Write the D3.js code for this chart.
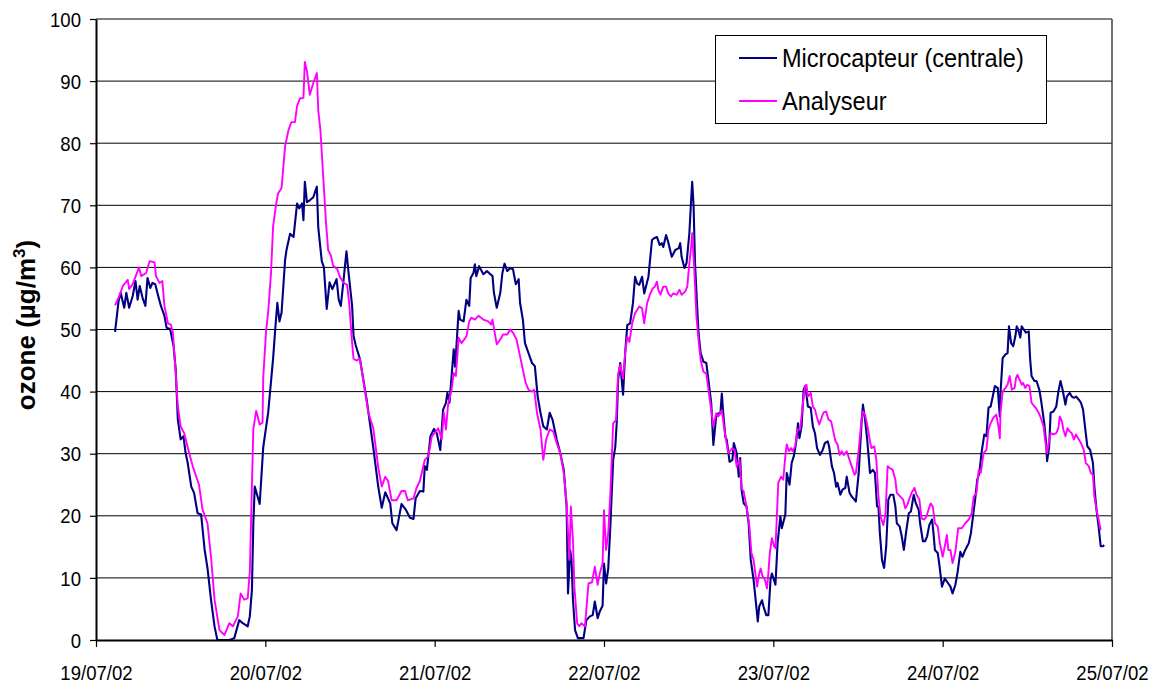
<!DOCTYPE html>
<html><head><meta charset="utf-8">
<script src="https://cdn.jsdelivr.net/npm/d3@7"></script>
<style>html,body{margin:0;padding:0;background:#fff;} svg{display:block;font-family:Arial,"Liberation Sans",sans-serif;}</style>
</head><body><svg id="c" width="1160" height="684"></svg>
<script>
// ---- data ----
const startDate = new Date(2002, 6, 19, 0, 0);
const dayLabels = ["19/07/02","20/07/02","21/07/02","22/07/02","23/07/02","24/07/02","25/07/02"];
const yTicks = [0,10,20,30,40,50,60,70,80,90,100];
const seriesNames = ["Microcapteur (centrale)", "Analyseur"];
const seriesColors = ["#000080", "#FF00FF"];
const yLabel = "ozone (µg/m";
// [hours since 19/07/02 00:00, ozone µg/m3]
const microcapteur = [
[2.7,49.6],[3.2,54.6],[3.5,55.9],[4.0,53.5],[4.3,55.9],[4.7,53.5],[5.2,55.4],[5.6,57.8],[5.9,54.8],[6.2,57],[6.6,55.1],[7.0,53.8],[7.3,58.3],[7.7,56.7],[8.0,57.5],[8.4,57.3],[8.7,55.9],[9.2,53.8],[9.7,52.2],[10.0,50.3],[10.5,50.1],[11.0,47.3],[11.3,43.5],[11.6,35.5],[12.0,32.3],[12.4,32.8],[12.7,30.1],[13.0,28.5],[13.5,24.7],[13.9,23.7],[14.4,20.4],[14.9,20.2],[15.4,14.5],[15.8,11.6],[16.3,6.5],[16.8,2.2],[17.2,0],[18.9,0],[19.6,0.3],[20.3,3.2],[20.8,2.7],[21.5,2.2],[21.8,3.8],[22.1,8.1],[22.3,18.8],[22.5,24.7],
[23.2,21.9],[23.7,31],[24.4,36.6],[25.1,45.3],[25.4,50],[25.7,54.3],[26.0,51.3],[26.3,52.7],[26.8,61.2],[27.0,62.8],[27.5,65.4],[28.0,64.9],[28.5,70.3],[28.8,69.5],[29.2,70.3],[29.4,67.6],[29.6,73.8],[29.9,70.5],[30.3,70.8],[30.8,71.3],[31.3,73],[31.5,66.5],[32.0,61],[32.3,60],[32.7,53.3],[33.1,57.6],[33.5,56.5],[34.1,58.1],[34.4,54.8],[34.7,53.8],[35.1,58.1],[35.5,62.6],[35.8,59.1],[36.3,53.8],[36.5,49],[36.8,47.5],[37.4,45.3],[38.4,38.4],[39.3,31],[40.0,24.7],[40.5,21.3],[41.0,23.8],[41.7,22],[42.0,18.8],[42.6,17.7],[43.3,21.9],[43.9,21],[44.5,19.7],[45.0,19.5],[45.3,22.8],[45.9,24],
[46.4,23.9],[46.6,28],[46.9,27.4],[47.1,29.6],[47.4,32.8],[47.9,34],[48.3,33.3],[48.8,30.6],[49.2,37.1],[49.6,38.2],[49.8,39.8],[50.1,38.2],[50.7,46.8],[50.9,44],[51.4,53],[51.6,51.6],[52.1,51.3],[52.5,54.8],[52.9,53.8],[53.1,58.3],[53.5,59.1],[53.7,60.5],[53.9,58.6],[54.3,60.2],[54.9,58.9],[55.4,59.4],[55.9,58.9],[56.2,58.6],[56.4,55.9],[56.8,53.5],[57.3,55.9],[57.6,59.1],[57.9,60.6],[58.3,59.4],[58.7,59.9],[59.1,59.7],[59.5,57.3],[59.9,58.1],[60.1,54.3],[60.5,51.6],[60.8,47.8],[61.3,46.2],[61.8,44.6],[62.2,44.1],[62.6,39.2],[63.0,36.6],[63.4,34.4],[63.9,33.9],[64.3,36.6],[64.7,35.5],[65.3,32.3],[65.8,30.1],[66.3,27.4],[66.7,21.5],[66.9,7.5],[67.2,14.5],[67.4,12.9],[67.6,6.5],[67.9,1.6],[68.3,0.3],[69.1,0.3],[69.5,3.2],[70.0,3.8],[70.4,4],
[70.7,6.2],[71.1,3.5],[71.4,4.6],[71.8,5.5],[72.0,12.3],[72.3,9.1],[72.6,11.5],[72.9,18.3],[73.3,29],[73.6,31.1],[73.8,34.9],[74.0,41.9],[74.3,44.6],[74.7,39.5],[75.0,46.2],[75.3,50.7],[75.7,51],[76.1,54.2],[76.4,58.5],[76.7,57.4],[77.0,57.2],[77.4,58.5],[77.7,55.8],[78.3,58.5],[78.8,64.4],[79.1,64.7],[79.5,64.9],[79.9,63.6],[80.2,63.9],[80.4,63.3],[80.8,65.2],[81.1,64.1],[81.6,61.7],[82.1,62.8],[82.6,63.1],[82.8,63.9],[83.0,61.7],[83.4,59.9],[83.7,60.7],[84.1,65.5],[84.3,69.8],[84.5,73.8],[84.7,69.8],[84.9,60.7],[85.2,53.7],[85.4,49.4],[85.7,46.2],[86.1,44.8],[86.5,44.6],[86.8,41.9],[87.2,38.1],[87.5,31.4],[87.9,36],[88.2,36.5],[88.5,36.5],[88.7,39.7],[88.9,36.5],[89.2,32.7],[89.4,32.2],[89.8,28.7],[90.2,29],[90.4,31.7],[90.8,30.1],[91.1,26.3],[91.3,29.3],[91.5,24.2],[91.8,22],[92.2,21.5],[92.5,18.8],[92.8,12.9],[93.2,9.7],[93.4,7.5],[93.8,3],[94.0,5.4],[94.4,6.4],[94.6,5.4],[95.0,4],[95.3,4],[95.6,9.7],[95.8,10.7],[96.3,8.9],[96.6,15.6],[97.0,19.9],
[97.2,18],[97.7,20.2],[97.9,26.9],[98.3,25],[98.6,28.5],[98.9,29.6],[99.2,31.5],[99.5,34.9],[99.7,32.5],[100.0,34.4],[100.3,40.3],[100.5,40.9],[100.7,39.5],[100.9,37.6],[101.3,37.4],[101.6,34.4],[101.9,33.3],[102.2,30.9],[102.6,29.8],[103.0,30.6],[103.3,31.7],[103.7,32],[103.9,31.2],[104.3,28],[104.6,26.9],[104.9,24.7],[105.1,25.3],[105.5,23.4],[105.8,24.2],[106.2,24.5],[106.4,26.3],[106.8,23.7],[107.1,23.1],[107.5,22.6],[107.7,22.3],[108.1,26.9],[108.5,34.9],[108.7,37.9],[109.0,35.5],[109.3,32.3],[109.7,26.9],[110.1,27.4],[110.4,26.9],[110.7,21.5],[110.9,21.5],[111.1,17.2],[111.4,12.9],[111.7,11.6],[112.0,15.1],[112.3,22.6],[112.6,23.4],[113.0,23.4],[113.3,21.5],[113.5,18.8],[113.9,18.3],[114.2,16.7],[114.5,14.5],[114.8,17.2],[115.2,20.4],[115.5,20.7],[115.9,23.4],[116.2,22],[116.6,21],[116.8,18.8],[117.2,15.9],[117.5,15.9],[117.8,16.7],[118.1,18.5],[118.5,19.4],
[118.7,17.2],[118.9,14.5],[119.3,14],[119.5,12.4],[119.9,8.6],[120.3,9.9],[120.8,9.1],[121.1,8.6],[121.4,7.5],[121.8,8.9],[122.1,10.8],[122.5,14.2],[122.8,13.4],[123.2,14.5],[123.7,15.6],[124.0,17.2],[124.3,19.9],[124.6,22.6],[124.9,25.8],[125.2,26.9],[125.5,30.1],[125.9,33.1],[126.2,32.8],[126.5,37.4],[126.8,37.6],[127.1,39.2],[127.4,40.9],[127.8,40.6],[128.1,36],[128.2,39.8],[128.5,45.4],[128.9,46],[129.2,46.2],[129.4,50.5],[129.7,47.8],[130.0,47.3],[130.3,48.9],[130.5,50.5],[130.7,50],[131.0,48.7],[131.2,50.5],[131.5,50],[131.8,49.5],[132.2,49.7],[132.4,45.2],[132.6,42.5],[133.0,41.7],[133.3,41.7],[133.7,40.3],[134.0,38.2],[134.4,34.9],[134.7,31.2],[134.8,28.8],[135.1,31.2],[135.3,36.6],[135.7,36.8],[136.1,37.6],[136.4,40],[136.7,41.7],[137.0,40.3],[137.4,37.9],[137.6,39.2],[138.0,39.8],[138.3,39.2],[138.6,39],[138.9,39.2],[139.3,38.7],[139.6,38.2],[139.9,37.1],[140.2,34.1],[140.5,31.2],[140.9,30.6],[141.3,28.5],[141.5,24.7],[141.8,21],[142.1,18.3],[142.4,15.1],[142.7,15.1],[142.9,15.3]
];
const analyseur = [
[2.7,53.9],[3.3,55.4],[3.8,57],[4.5,58],[4.7,56.5],[5.2,57.3],[6.1,60],[6.4,58.6],[7.1,59.1],[7.6,61],[8.3,60.8],[8.5,58.6],[9.0,57.5],[9.4,57.8],[9.7,53.8],[10.2,51],[10.6,50.8],[10.9,49.5],[11.3,43],[11.6,37.6],[12.0,34.4],[12.5,33.3],[13.2,30.1],[13.7,28],[14.6,25],[15.1,21],[15.8,18.8],[16.3,13.4],[16.8,6.5],[17.5,1.6],[18.2,0.8],[18.9,2.7],[19.4,2.2],[20.1,3.8],[20.5,7.5],[21.0,6.5],[21.5,6.7],[21.8,11],
[22.3,34],[22.7,36.9],[23.2,34.7],[23.6,35],[23.7,42.2],[24.1,49.7],[24.4,52.8],[24.8,59],[25.1,66.6],[25.5,70],[25.8,71.9],[26.3,72.8],[26.8,79.5],[27.3,82.2],[27.7,83.4],[28.2,83.4],[28.5,86],[28.9,87.2],[29.4,87.3],[29.6,93.1],[29.9,91.6],[30.3,87.8],[30.8,89.7],[31.3,91.3],[31.5,85.3],[31.8,82.2],[32.2,74.7],[32.6,67.2],[32.9,62.8],[33.3,61.9],[33.6,60.3],[34.2,59.7],[34.6,58.4],[35.1,57.5],[35.6,57.2],[35.9,54],[36.3,47.8],[36.5,45.3],[36.9,45],[37.4,45.3],[38.1,40.3],[38.6,36.6],[39.3,34.1],[40.0,27.8],[40.5,24.7],[41.0,26.3],[41.4,25.6],[41.9,22.5],[42.6,22.5],[43.3,24],[43.8,24],[44.2,22.5],[45.0,22.8],[45.4,24.4],[45.9,25.6],
[46.6,29],[47.1,29.6],[47.6,32.8],[48.2,33.6],[48.5,34.1],[49.0,32.3],[49.3,36.6],[49.6,33.9],[49.9,37.9],[50.4,40.3],[50.7,43],[51.0,42.5],[51.4,48.7],[51.8,47.8],[52.2,48.4],[52.5,48.9],[52.9,51.3],[53.2,51.9],[53.7,51.6],[54.2,52.2],[54.9,51.6],[55.6,51.3],[56.0,50.8],[56.2,51.6],[56.6,48.9],[56.8,47.6],[57.3,48.4],[57.7,49.2],[58.3,49.2],[58.7,50],[59.1,49.5],[59.6,48.4],[60.1,45.7],[60.6,43],[60.9,41.4],[61.3,40.3],[61.8,40],[62.1,40.3],[62.5,36.6],[63.0,33.9],[63.4,29],[63.8,32.3],[64.3,33.9],[64.8,33.6],[65.3,31.7],[65.8,30.1],[66.3,26.9],[66.7,22],[67.1,12.9],[67.3,21.5],[67.6,16.1],[67.8,8.6],[68.2,2.7],[68.5,2.2],[68.8,2.7],[69.3,2.2],[69.8,9.1],
[70.3,9.3],[70.7,11.8],[71.1,8.9],[71.4,10.7],[71.8,12.3],[72.0,20.9],[72.3,14.5],[72.6,17.2],[72.9,23.6],[73.3,34.9],[73.7,35.4],[74.0,42.9],[74.3,44.3],[74.7,42.1],[75.0,46.2],[75.3,48.8],[75.6,48],[76.0,51],[76.4,52.6],[77.0,53.7],[77.4,53.4],[77.7,51],[78.1,54.2],[78.5,55.6],[78.9,56.6],[79.2,56.9],[79.5,57.7],[79.7,56.4],[80.0,55.6],[80.4,56.9],[80.8,56.9],[81.1,55.8],[81.5,55.3],[81.8,55.8],[82.3,55.6],[82.7,56.4],[83.0,55.6],[83.5,56.1],[83.8,56.9],[84.1,60.7],[84.4,63.9],[84.5,65.5],[84.8,59.6],[85.1,52.1],[85.4,48.3],[85.7,45.1],[86.1,43.2],[86.5,42.9],[86.8,40.3],[87.2,37],[87.5,34.4],[87.9,36.5],[88.2,36],[88.7,37],[89.0,34.4],[89.3,32.2],[89.6,30.1],[90.2,30.9],[90.5,30.6],[90.8,27.9],[91.2,29],[91.5,24.4],[91.8,23.9],[92.2,21.5],[92.6,18.3],[92.9,14],[93.2,12.9],[93.7,8.6],[94.0,10.7],[94.2,11.5],[94.5,10.2],[94.8,9.7],[95.1,8.3],[95.3,10.8],[95.5,14],[95.8,16.4],[96.1,15.1],[96.3,14.8],[96.5,19.9],[96.7,25.3],
[97.1,26.3],[97.4,25.8],[97.7,29.6],[97.9,31.5],[98.2,30.4],[98.5,30.9],[98.7,30.4],[99.1,31.2],[99.4,33.9],[99.8,33.9],[100.2,38.2],[100.5,40.9],[100.7,41.1],[100.9,39.2],[101.3,39.8],[101.6,37.6],[101.9,37.1],[102.2,35.8],[102.5,34.7],[102.9,36],[103.1,36.6],[103.5,36.8],[103.8,35.5],[104.2,35.2],[104.5,33.6],[104.8,32],[105.1,31.5],[105.4,29.8],[105.7,30.4],[106.0,29.8],[106.4,30.4],[106.8,29],[107.1,28],[107.5,26.6],[107.7,26.9],[108.1,30.6],[108.5,35.5],[108.7,36.8],[109.0,36.3],[109.3,34.7],[109.7,32],[109.9,30.9],[110.3,31.2],[110.6,29],[110.9,23.1],[111.2,19.9],[111.6,18.5],[111.9,20.4],[112.2,28],[112.5,27.7],[112.9,27.4],[113.3,25.8],[113.5,23.7],[114.0,23.1],[114.4,22.6],[114.7,21.2],[115.0,21.8],[115.3,22.8],[115.6,23.7],[116.0,24.5],[116.3,23.4],[116.7,22.6],[117.0,19.6],[117.4,19.4],[117.7,19.9],[118.0,21],[118.3,22],
[118.6,21.5],[118.9,18.8],[119.3,18.3],[119.6,15.6],[120.0,13.4],[120.3,15.1],[120.6,16.9],[120.8,14.5],[121.1,14.5],[121.4,12.4],[121.8,14.2],[122.2,18],[122.7,18],[123.2,18.8],[123.7,19.4],[124.1,20.4],[124.4,23.1],[124.8,23.7],[125.1,27.4],[125.4,26.9],[125.8,30.1],[126.2,30.6],[126.5,33.9],[126.8,34.9],[127.2,35.8],[127.6,36.3],[127.9,34.4],[128.1,32.5],[128.2,36.6],[128.5,40],[128.9,40.6],[129.2,41.1],[129.5,42.5],[129.8,40.3],[130.2,40.6],[130.4,42.2],[130.6,42.7],[131.0,41.7],[131.2,41.1],[131.4,41.4],[131.7,40.6],[132.0,41.1],[132.3,40.9],[132.6,38.2],[133.0,37.6],[133.2,37.4],[133.6,36.6],[133.9,35.8],[134.3,34.4],[134.5,32.3],[134.8,30.1],[135.0,31.5],[135.3,33.3],[135.7,33.1],[136.1,33.3],[136.4,34.1],[136.6,36],[136.9,35.2],[137.1,33.9],[137.4,32.8],[137.7,34.1],[138.0,33.6],[138.3,33.3],[138.6,32.3],[138.9,33.1],[139.3,32.3],[139.6,31.7],[140.0,30.6],[140.3,28.5],[140.7,28],[141.0,26.9],[141.3,26.6],[141.5,23.1],[141.8,21],[142.1,19.4],[142.4,17.7]
];

// ---- chart ----
const svg = d3.select("#c");
const plot = {left:96, right:1112, top:19, bottom:640};
const sx = 0.885; // horizontal text compression seen in the reference
const x = d3.scaleTime()
  .domain([startDate, d3.timeDay.offset(startDate, dayLabels.length - 1)])
  .range([plot.left, plot.right]);
const y = d3.scaleLinear().domain([0, 100]).range([plot.bottom, plot.top]);
const toDate = h => new Date(startDate.getTime() + h * 3600000);
const dayDates = dayLabels.map((d, i) => d3.timeDay.offset(startDate, i));

// gridlines
svg.append("g").selectAll("line").data(yTicks.filter(v => v > 0)).join("line")
  .attr("x1", plot.left).attr("x2", plot.right)
  .attr("y1", d => y(d)).attr("y2", d => y(d))
  .attr("stroke", "#000").attr("stroke-width", 1);
// plot border top/right
svg.append("line").attr("x1", plot.left).attr("x2", plot.right).attr("y1", plot.top).attr("y2", plot.top)
  .attr("stroke", "#808080").attr("stroke-width", 1.5);
svg.append("line").attr("x1", plot.right).attr("x2", plot.right).attr("y1", plot.top).attr("y2", plot.bottom)
  .attr("stroke", "#404040").attr("stroke-width", 1.5);

// lines
const line = d3.line().x(d => x(toDate(d[0]))).y(d => y(d[1]));
[microcapteur, analyseur].forEach((s, i) => {
  svg.append("path").datum(s).attr("d", line)
    .attr("fill", "none").attr("stroke", seriesColors[i])
    .attr("stroke-width", i === 0 ? 2.1 : 1.9)
    .attr("stroke-linejoin", "round");
});

// y axis
const gy = svg.append("g").attr("transform", `translate(${plot.left},0)`)
  .call(d3.axisLeft(y).tickValues(yTicks).tickSize(6).tickSizeOuter(0));
gy.select(".domain").attr("stroke", "#000").attr("stroke-width", 2);
gy.selectAll(".tick line").attr("stroke", "#000").attr("stroke-width", 1.2);
gy.selectAll(".tick text").attr("font-size", 21).attr("fill", "#000")
  .attr("font-family", "Arial, 'Liberation Sans', sans-serif")
  .attr("x", -15 / sx).attr("dy", "0.34em")
  .attr("transform", `scale(${sx},1)`);

// x axis
const gx = svg.append("g").attr("transform", `translate(0,${plot.bottom})`)
  .call(d3.axisBottom(x).tickValues(dayDates).tickFormat((d, i) => dayLabels[i]).tickSize(7).tickSizeOuter(0));
gx.select(".domain").attr("stroke", "#000").attr("stroke-width", 2);
gx.selectAll(".tick line").attr("stroke", "#000").attr("stroke-width", 1.2);
gx.selectAll(".tick text").attr("font-size", 21).attr("fill", "#000")
  .attr("font-family", "Arial, 'Liberation Sans', sans-serif")
  .attr("y", 40).attr("dy", 0)
  .attr("transform", `scale(${sx},1)`);

// y label
const yl = svg.append("text").attr("transform", "translate(35,325) rotate(-90)")
  .attr("text-anchor", "middle").attr("font-size", 26).attr("font-weight", "bold").attr("fill", "#000");
yl.append("tspan").text(yLabel);
yl.append("tspan").attr("font-size", 17).attr("dy", -10).text("3");
yl.append("tspan").attr("dy", 10).text(")");

// legend
const lg = svg.append("g");
lg.append("rect").attr("x", 715.5).attr("y", 35.5).attr("width", 331).attr("height", 88)
  .attr("fill", "#fff").attr("stroke", "#000").attr("stroke-width", 1);
seriesNames.forEach((n, i) => {
  const ly = 58 + i * 43;
  lg.append("line").attr("x1", 739).attr("x2", 777).attr("y1", ly).attr("y2", ly)
    .attr("stroke", seriesColors[i]).attr("stroke-width", 2);
  lg.append("text").attr("transform", `translate(782,${ly + 8.5}) scale(0.905,1)`)
    .attr("font-size", 26).attr("fill", "#000").text(n);
});
</script></body></html>
